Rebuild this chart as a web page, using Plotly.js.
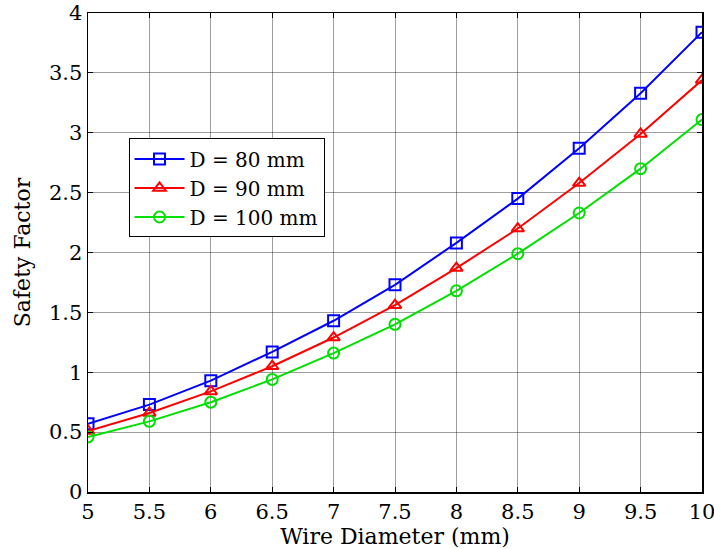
<!DOCTYPE html>
<html>
<head>
<meta charset="utf-8">
<script src="https://cdn.plot.ly/plotly-3.0.1.min.js"></script>
<style>html,body{margin:0;padding:0;background:#fff;}#chart{width:714px;height:549px;}</style>
</head>
<body>
<div id="chart"></div>
<script>
const wireDiameter = [5, 5.5, 6, 6.5, 7, 7.5, 8, 8.5, 9, 9.5, 10];
const sfD80 = [0.57, 0.73, 0.93, 1.17, 1.43, 1.73, 2.08, 2.45, 2.87, 3.33, 3.84];
const sfD90 = [0.51, 0.66, 0.84, 1.05, 1.29, 1.56, 1.87, 2.20, 2.58, 2.99, 3.44];
const sfD100 = [0.46, 0.59, 0.75, 0.94, 1.16, 1.40, 1.68, 1.99, 2.33, 2.70, 3.11];
const seriesNames = ['D = 80 mm', 'D = 90 mm', 'D = 100 mm'];
const xTicks = [5, 5.5, 6, 6.5, 7, 7.5, 8, 8.5, 9, 9.5, 10];
const yTicks = [0, 0.5, 1, 1.5, 2, 2.5, 3, 3.5, 4];

const font = 'DejaVu Serif, Liberation Serif, serif';
function tr(y, name, color, symbol) {
  return {
    x: wireDiameter, y: y, name: name, type: 'scatter', mode: 'lines+markers',
    line: {color: color, width: 2},
    marker: {symbol: symbol, size: 11, color: color, line: {color: color, width: 2}}
  };
}
const data = [
  tr(sfD80, seriesNames[0], '#0000ff', 'square-open'),
  tr(sfD90, seriesNames[1], '#ff0000', 'triangle-up-open'),
  tr(sfD100, seriesNames[2], '#00e000', 'circle-open')
];
const axisCommon = {
  showline: true, linecolor: '#000', linewidth: 1.5, mirror: 'ticks',
  ticks: 'inside', ticklen: 5, tickwidth: 1, tickcolor: '#000',
  showgrid: true, gridcolor: 'rgba(0,0,0,0.38)', gridwidth: 1,
  zeroline: false, tickfont: {family: font, size: 21, color: '#000'},
  ticklabeloverflow: 'allow'
};
const layout = {
  width: 714, height: 549,
  margin: {l: 88, r: 12, t: 13, b: 57},
  paper_bgcolor: '#fff', plot_bgcolor: '#fff',
  font: {family: font, color: '#000'},
  xaxis: Object.assign({}, axisCommon, {
    range: [5, 10], tickvals: xTicks, ticktext: xTicks.map(String),
    title: {text: 'Wire Diameter (mm)', font: {family: font, size: 22, color: '#000'}, standoff: 0}
  }),
  yaxis: Object.assign({}, axisCommon, {
    range: [0, 4], tickvals: yTicks, ticktext: yTicks.map(String),
    title: {text: 'Safety Factor', font: {family: font, size: 22, color: '#000'}, standoff: 12}
  }),
  showlegend: true,
  legend: {
    x: 0.066, y: 0.738, xanchor: 'left', yanchor: 'top',
    bgcolor: '#fff', bordercolor: '#000', borderwidth: 1,
    font: {family: font, size: 20, color: '#000'},
    tracegroupgap: 0, itemwidth: 50
  }
};
Plotly.newPlot('chart', data, layout, {displayModeBar: false, staticPlot: true});
</script>
</body>
</html>
